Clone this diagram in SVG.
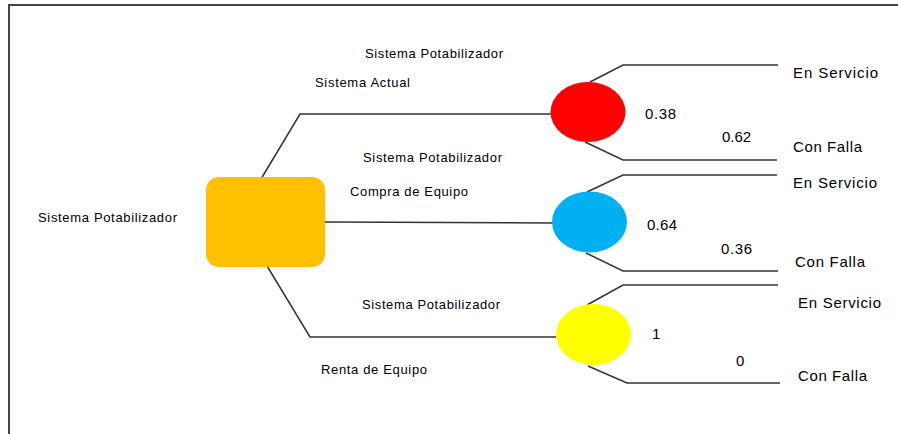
<svg xmlns="http://www.w3.org/2000/svg" width="898" height="434" viewBox="0 0 898 434">
<style>
text{font-family:"Liberation Sans",Arial,sans-serif;fill:#000}
.s{font-size:13px}
.b{font-size:15px}
.ln{fill:none;stroke:#333;stroke-width:1.5}
.frame{fill:none;stroke:#444;stroke-width:2}
</style>
<rect width="898" height="434" fill="#fff"/>
<path class="frame" d="M9,434 V5 H898"/>
<g id="connectors">
<polyline class="ln" points="261,179 300,114 552,114"/>
<polyline class="ln" points="325,222 553,223"/>
<polyline class="ln" points="267,266 310,337 556,337"/>
<polyline class="ln" points="590,82 623,65 778,65"/>
<polyline class="ln" points="585,142 623,160 777,160"/>
<polyline class="ln" points="587,192 623,175 777,175"/>
<polyline class="ln" points="586,253 623,271 778,271"/>
<polyline class="ln" points="587,305 623,285 778,285"/>
<polyline class="ln" points="588,366 627,383 780,383"/>
</g>
<g id="decision">
<rect x="206" y="177" width="119" height="90" rx="13" fill="#FFC000"/>
<text class="s" x="38" y="222" textLength="139" lengthAdjust="spacing">Sistema Potabilizador</text>
</g>
<g id="chance-actual">
<ellipse cx="588" cy="112" rx="37.5" ry="30" fill="#FF0000"/>
<text class="s" x="365" y="58" textLength="138" lengthAdjust="spacing">Sistema Potabilizador</text>
<text class="s" x="315" y="87" textLength="95" lengthAdjust="spacing">Sistema Actual</text>
<text class="b" x="645" y="119" textLength="31" lengthAdjust="spacing">0.38</text>
<text class="b" x="722" y="142" textLength="29" lengthAdjust="spacing">0.62</text>
<text class="b" x="793" y="78" textLength="85" lengthAdjust="spacing">En Servicio</text>
<text class="b" x="793" y="152" textLength="69" lengthAdjust="spacing">Con Falla</text>
</g>
<g id="chance-compra">
<ellipse cx="589.5" cy="222" rx="37.5" ry="30.5" fill="#00B0F0"/>
<text class="s" x="363" y="162" textLength="139" lengthAdjust="spacing">Sistema Potabilizador</text>
<text class="s" x="350" y="196" textLength="118" lengthAdjust="spacing">Compra de Equipo</text>
<text class="b" x="647" y="230" textLength="30" lengthAdjust="spacing">0.64</text>
<text class="b" x="721" y="254" textLength="31" lengthAdjust="spacing">0.36</text>
<text class="b" x="793" y="188" textLength="84" lengthAdjust="spacing">En Servicio</text>
<text class="b" x="795" y="267" textLength="70" lengthAdjust="spacing">Con Falla</text>
</g>
<g id="chance-renta">
<ellipse cx="593.5" cy="334.5" rx="37.5" ry="30.5" fill="#FFFF00"/>
<text class="s" x="362" y="309" textLength="138" lengthAdjust="spacing">Sistema Potabilizador</text>
<text class="s" x="321" y="374" textLength="106" lengthAdjust="spacing">Renta de Equipo</text>
<text class="b" x="652" y="339">1</text>
<text class="b" x="736" y="366">0</text>
<text class="b" x="798" y="308" textLength="83" lengthAdjust="spacing">En Servicio</text>
<text class="b" x="798" y="381" textLength="69" lengthAdjust="spacing">Con Falla</text>
</g>
</svg>
